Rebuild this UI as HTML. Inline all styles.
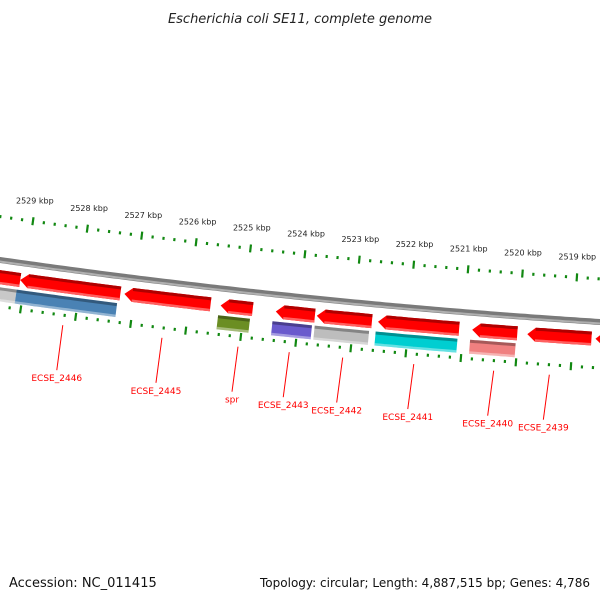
<!DOCTYPE html>
<html><head><meta charset="utf-8"><style>
body{margin:0;background:#fff}
svg{display:block;font-family:"DejaVu Sans","Liberation Sans",sans-serif}
</style></head><body>
<svg id="chart" width="600" height="600" viewBox="0 0 600 600" xmlns="http://www.w3.org/2000/svg">
<rect width="600" height="600" fill="#fff"/>
<text x="300" y="23" text-anchor="middle" font-size="13" font-style="italic" fill="#222">Escherichia coli SE11, complete genome</text>
<text x="9" y="587" font-size="13" fill="#111">Accession: NC_011415</text>
<text x="590" y="587" text-anchor="end" font-size="12.5" textLength="330" lengthAdjust="spacingAndGlyphs" fill="#111">Topology: circular; Length: 4,887,515 bp; Genes: 4,786</text>
<g id="ticks"></g>
<g id="backbone"></g>
<g id="genes"></g>
<g id="labels"></g>
</svg>
<script>
// data (kbp positions)
const tickKbp=[2530,2529,2528,2527,2526,2525,2524,2523,2522,2521,2520,2519,2518];
const geneLeft=[2529.54,2529.081,2527.180,2525.425,2524.419,2523.670,2522.555,2520.836,2519.831,2518.587];
const geneRight=[2529.081,2527.253,2525.608,2524.840,2523.706,2522.664,2521.074,2520.013,2518.661,2518.28];
const geneArrow=[false,true,true,true,true,true,true,true,true,true];
const cogLeft=[2529.54,2529.12,2525.45,2524.46,2523.69,2522.58,2520.86];
const cogRight=[2529.12,2527.29,2524.87,2523.74,2522.70,2521.09,2520.03];
const cogColors=["#c8c8c8","#4a82b4","#6b8e23","#6a5acd","#bdbdbd","#00ced1","#f08080"];
const labelNames=["ECSE_2446","ECSE_2445","spr","ECSE_2443","ECSE_2442","ECSE_2441","ECSE_2440","ECSE_2439"];
const labelKbp=[2528.21,2526.41,2525.03,2524.10,2523.13,2521.84,2520.39,2519.38];

const NS="http://www.w3.org/2000/svg";
function X(k){return 27+(2529-k)*54.7;}
function y0(x){return 260+0.1433*x-0.0000667*x*x;}
function P(x,d){const s=0.1433-2*0.0000667*x;const n=Math.sqrt(1+s*s);return [x-s*d/n,y0(x)+d/n];}
function mk(tag,attrs,parent){const e=document.createElementNS(NS,tag);for(const k in attrs)e.setAttribute(k,attrs[k]);parent.appendChild(e);return e;}
function arcPts(x1,x2,d){const pts=[];const n=Math.max(2,Math.ceil(Math.abs(x2-x1)/5));for(let i=0;i<=n;i++){pts.push(P(x1+(x2-x1)*i/n,d));}return pts;}
function fmt(pts){return pts.map(p=>p[0].toFixed(1)+","+p[1].toFixed(1)).join(" ");}

// backbone
const bb=document.getElementById('backbone');
let p=mk('polyline',{points:fmt(arcPts(-10,610,0)),fill:'none',stroke:'#7a7a7a','stroke-width':6},bb);

p=mk('polyline',{points:fmt(arcPts(-10,610,1.5)),fill:'none',stroke:'#b0b0b0','stroke-width':2},bb);


// ticks
const tg=document.getElementById('ticks');
tickKbp.forEach((k,i)=>{
  for(let m=0;m<5;m++){
    const kk=k-m*0.2;const x=X(kk);
    [-43,46].forEach(d=>{
      const len=m===0?4:1.5;
      const a=P(x,d-len),b=P(x,d+len);
      const t=mk('line',{x1:a[0],y1:a[1],x2:b[0],y2:b[1],stroke:'#118811','stroke-width':2.2},tg);
      
      
    });
  }
  const lp=P(X(k),-64);
  const lt=mk('text',{x:lp[0]-1,y:lp[1]+3,'text-anchor':'middle','font-size':8,fill:'#222'},tg);
  lt.textContent=k+' kbp';
  
  
});

// genes
const gg=document.getElementById('genes');
function feature(x1,x2,dt,db,color,arrow,dark,light,name){
  const g=mk('g',{},gg);
  
  
  const hb=arrow?Math.min(x1+8,x2):x1;
  const top=arcPts(hb,x2,dt),bot=arcPts(x2,hb,db);
  let pts=top.concat(bot);
  if(arrow){pts.push(P(x1,(dt+db)/2));}
  mk('polygon',{points:fmt(pts),fill:color},g);
  mk('polyline',{points:fmt(arcPts(hb,x2,dt+1.5)),fill:'none',stroke:dark,'stroke-width':3},g);
  mk('polyline',{points:fmt(arcPts(hb,x2,db-1.2)),fill:'none',stroke:light,'stroke-width':2.4},g);
}
geneLeft.forEach((s,i)=>{
  feature(X(s),X(geneRight[i]),10,24,'#ff0000',geneArrow[i],'#b00000','#ff6060','gene-'+i);
});
cogLeft.forEach((s,i)=>{
  feature(X(s),X(cogRight[i]),27,41,cogColors[i],false,'rgba(0,0,0,0.3)','rgba(255,255,255,0.4)','cog-'+i);
});

// labels
const lg=document.getElementById('labels');
labelNames.forEach((n,i)=>{
  const x=X(labelKbp[i]);
  const a=P(x,56);
  const bx=a[0]-6,by=a[1]+45;
  const l=mk('line',{x1:a[0],y1:a[1],x2:bx,y2:by,stroke:'#ff0000','stroke-width':1},lg);
  
  
  const t=mk('text',{x:bx,y:by+11,'text-anchor':'middle','font-size':9,fill:'#ff0000'},lg);
  t.textContent=n;
  
  
});
</script>
</body></html>
